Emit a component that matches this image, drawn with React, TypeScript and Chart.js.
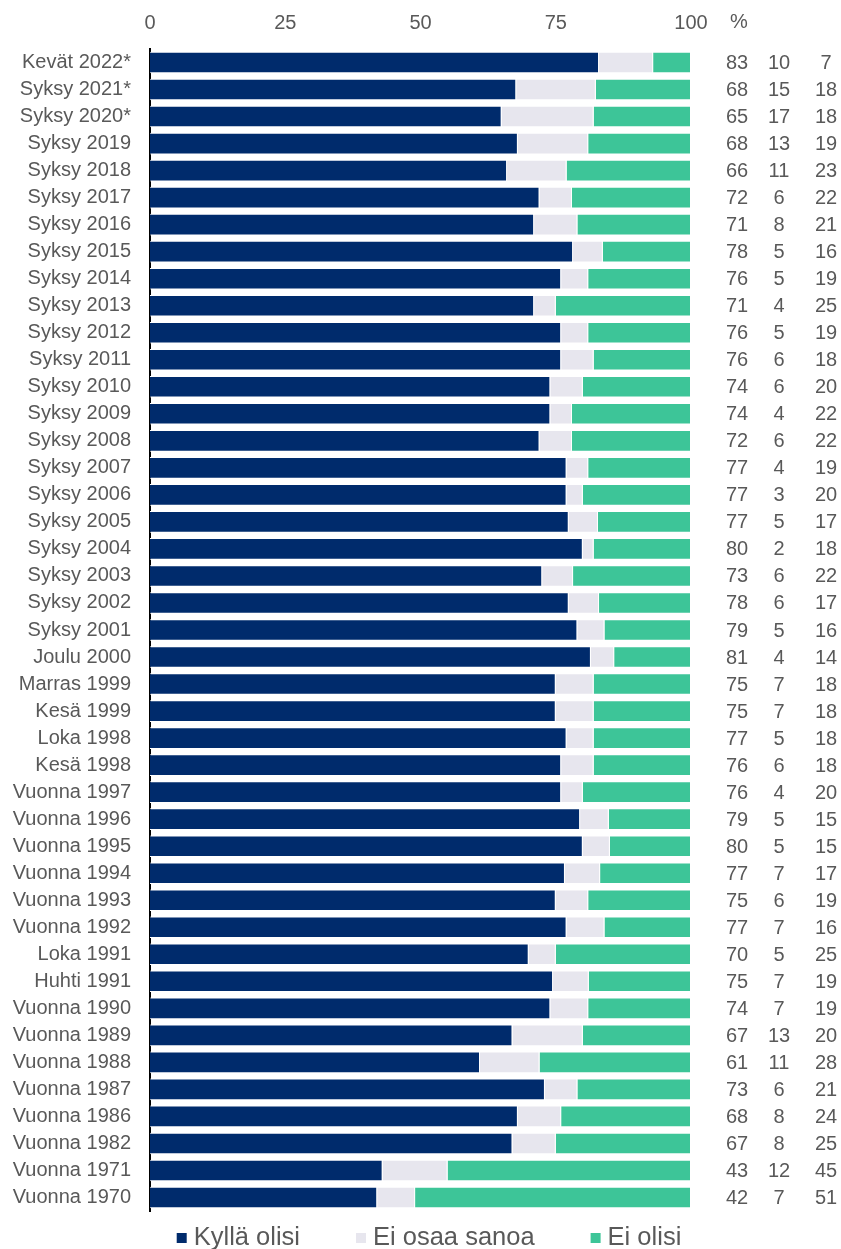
import React, { useEffect, useRef } from "react";
import { Chart, registerables } from "chart.js";

Chart.register(...registerables);

const categories = [
  "Kevät 2022*", "Syksy 2021*", "Syksy 2020*", "Syksy 2019", "Syksy 2018", "Syksy 2017",
  "Syksy 2016", "Syksy 2015", "Syksy 2014", "Syksy 2013", "Syksy 2012", "Syksy 2011",
  "Syksy 2010", "Syksy 2009", "Syksy 2008", "Syksy 2007", "Syksy 2006", "Syksy 2005",
  "Syksy 2004", "Syksy 2003", "Syksy 2002", "Syksy 2001", "Joulu 2000", "Marras 1999",
  "Kesä 1999", "Loka 1998", "Kesä 1998", "Vuonna 1997", "Vuonna 1996", "Vuonna 1995",
  "Vuonna 1994", "Vuonna 1993", "Vuonna 1992", "Loka 1991", "Huhti 1991", "Vuonna 1990",
  "Vuonna 1989", "Vuonna 1988", "Vuonna 1987", "Vuonna 1986", "Vuonna 1982", "Vuonna 1971",
  "Vuonna 1970",
];

// Printed values (right-hand columns)
const yesLabels = [83, 68, 65, 68, 66, 72, 71, 78, 76, 71, 76, 76, 74, 74, 72, 77, 77, 77, 80, 73, 78, 79, 81, 75, 75, 77, 76, 76, 79, 80, 77, 75, 77, 70, 75, 74, 67, 61, 73, 68, 67, 43, 42];
const dkLabels = [10, 15, 17, 13, 11, 6, 8, 5, 5, 4, 5, 6, 6, 4, 6, 4, 3, 5, 2, 6, 6, 5, 4, 7, 7, 5, 6, 4, 5, 5, 7, 6, 7, 5, 7, 7, 13, 11, 6, 8, 8, 12, 7];
const noLabels = [7, 18, 18, 19, 23, 22, 21, 16, 19, 25, 19, 18, 20, 22, 22, 19, 20, 17, 18, 22, 17, 16, 14, 18, 18, 18, 18, 20, 15, 15, 17, 19, 16, 25, 19, 19, 20, 28, 21, 24, 25, 45, 51];

// Bar lengths (unrounded where visible)
const yesBar = [83, 67.7, 65, 68, 66, 72, 71, 78.2, 76, 71, 76, 76, 74, 74, 72, 77, 77, 77.4, 80, 72.5, 77.4, 79, 81.5, 75, 75, 77, 76, 76, 79.5, 80, 76.7, 75, 77, 70, 74.5, 74, 67, 61, 73, 68, 67, 43, 42];
const dkBar = [10, 14.7, 17, 13, 11, 6, 8, 5.5, 5, 4, 5, 6, 6, 4, 6, 4, 3, 5.4, 2, 5.7, 5.6, 5, 4.3, 7, 7, 5, 6, 4, 5.3, 5, 6.5, 6, 7, 5, 6.6, 7, 13, 11, 6, 8, 8, 12, 7];
const noBar = [7, 17.6, 18, 19, 23, 22, 21, 16.3, 19, 25, 19, 18, 20, 22, 22, 19, 20, 17.2, 18, 21.8, 17, 16, 14.2, 18, 18, 18, 18, 20, 15.2, 15, 16.8, 19, 16, 25, 18.9, 19, 20, 28, 21, 24, 25, 45, 51];

const seriesNames = ["Kyllä olisi", "Ei osaa sanoa", "Ei olisi"];
const seriesColors = ["#002B6C", "#E7E6EE", "#3DC598"];

const FONT = '"Liberation Sans", Arial, sans-serif';
const TEXT = "#595959";

const extrasPlugin = {
  id: "extras",
  afterDraw(chart: any) {
    const ctx = chart.ctx;
    const yScale = chart.scales.y;
    ctx.save();
    ctx.fillStyle = TEXT;
    ctx.font = `20px ${FONT}`;
    ctx.textAlign = "center";
    ctx.textBaseline = "middle";
    ctx.fillText("%", 739, 22);
    const cols = [yesLabels, dkLabels, noLabels];
    const xs = [737, 779, 826];
    categories.forEach((_, i) => {
      const y = yScale.getPixelForValue(i);
      cols.forEach((arr, c) => ctx.fillText(String(arr[i]), xs[c], y + 1));
    });
    // legend
    ctx.font = `25.5px ${FONT}`;
    const box = 10, gap = 7, spacing = 56;
    const widths = seriesNames.map((n) => box + gap + ctx.measureText(n).width);
    const total = widths.reduce((a, b) => a + b, 0) + spacing * (seriesNames.length - 1);
    let x = 429 - total / 2;
    const ly = 1238;
    ctx.textAlign = "left";
    seriesNames.forEach((n, i) => {
      ctx.fillStyle = seriesColors[i];
      ctx.fillRect(x, ly - box / 2, box, box);
      ctx.fillStyle = TEXT;
      ctx.fillText(n, x + box + gap, ly);
      x += widths[i] + spacing;
    });
    ctx.restore();
  },
};

export default function App() {
  const ref = useRef<HTMLCanvasElement>(null);
  useEffect(() => {
    if (!ref.current) return;
    const bars = [yesBar, dkBar, noBar];
    const chart = new Chart(ref.current, {
      type: "bar",
      data: {
        labels: categories,
        datasets: seriesNames.map((name, i) => ({
          label: name,
          data: bars[i],
          backgroundColor: seriesColors[i],
          borderColor: "#FFFFFF",
          borderWidth: 1,
          barPercentage: 0.8,
          categoryPercentage: 1,
        })),
      },
      options: {
        indexAxis: "y",
        responsive: false,
        animation: false,
        devicePixelRatio: 1,
        layout: { padding: { left: 0, right: 150, top: 0, bottom: 38 } },
        plugins: { legend: { display: false }, tooltip: { enabled: false } },
        scales: {
          x: {
            position: "top",
            stacked: true,
            min: 0,
            max: 100,
            ticks: { stepSize: 25, color: TEXT, font: { family: FONT, size: 20 }, padding: 6, maxRotation: 0 },
            grid: { display: false },
            border: { display: false },
            afterFit: (s: any) => { s.height = 49; },
          },
          y: {
            stacked: true,
            ticks: { color: TEXT, font: { family: FONT, size: 20 }, padding: 11, autoSkip: false },
            grid: { display: false },
            border: { display: true, color: "#000000", width: 2 },
            afterFit: (s: any) => { s.width = 150; },
          },
        },
      },
      plugins: [extrasPlugin],
    });
    return () => chart.destroy();
  }, []);
  return (
    <div style={{ position: "fixed", left: 0, top: 0, width: 841, height: 1249, background: "#fff" }}>
      <canvas ref={ref} width={841} height={1249} />
    </div>
  );
}
